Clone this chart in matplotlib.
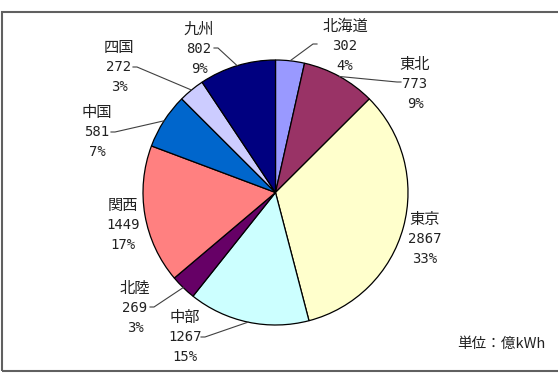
import numpy as np
import matplotlib.pyplot as plt
from matplotlib.patches import Rectangle

plt.rcParams['font.family'] = ['DejaVu Sans Mono', 'Noto Sans CJK JP']

# 地域別の電力量（億kWh）
regions = ['北海道', '東北', '東京', '中部', '北陸', '関西', '中国', '四国', '九州']
values = [302, 773, 2867, 1267, 269, 1449, 581, 272, 802]
colors = ['#9999FF', '#993366', '#FFFFCC', '#CCFFFF', '#660066',
          '#FF8080', '#0066CC', '#CCCCFF', '#000080']

# ラベル位置（ピクセル, 上から, 中段の行）とリーダー線の終点
label_pos = [(345, 46), (415, 84), (425, 239), (185, 337), (135, 308),
             (123, 225), (97, 132), (119, 67), (199, 49)]
leader_end = [(313, 44), (397, 82), None, (205, 337), (154, 307),
              None, (115, 132), (137, 67), (218, 48)]

W, H = 558, 374
fig = plt.figure(figsize=(W / 100, H / 100), dpi=100)
ax = fig.add_axes([0, 0, 1, 1])

cx, cy, r = 275.5, H - 192.5, 132.5
wedges, _ = ax.pie(values, colors=colors, startangle=90, counterclock=False,
                   center=(cx, cy), radius=r, frame=True,
                   wedgeprops=dict(edgecolor='black', linewidth=0.9))
ax.set_xlim(0, W)
ax.set_ylim(0, H)
ax.set_aspect('equal')
ax.axis('off')

tc = '#222222'
total = sum(values)
for name, v, w, pos, end in zip(regions, values, wedges, label_pos, leader_end):
    pct = round(v / total * 100)
    x, y = pos[0], H - pos[1]
    ax.text(x, y + 20, name, ha='center', va='center', fontsize=11,
            color=tc, family=['Noto Sans CJK JP'])
    ax.text(x, y, str(v), ha='center', va='center', fontsize=10, color=tc)
    ax.text(x, y - 20, f'{pct}%', ha='center', va='center', fontsize=10, color=tc)
    if end is not None:
        mid = np.deg2rad((w.theta1 + w.theta2) / 2)
        sx, sy = cx + r * np.cos(mid), cy + r * np.sin(mid)
        ex, ey = end[0], H - end[1]
        hx = ex + (4 if ex > sx else -4)
        ax.plot([sx, ex, hx], [sy, ey, ey], color='#404040', lw=0.8)

ax.text(501, H - 344, '単位：億kWh', ha='center', va='center', fontsize=10.5,
        color=tc, family=['Noto Sans CJK JP'])

ax.add_patch(Rectangle((2, H - 371), 558, 359, fill=False, edgecolor='#606060',
                       linewidth=1.5, clip_on=False))

fig.savefig('out.png', dpi=100)
